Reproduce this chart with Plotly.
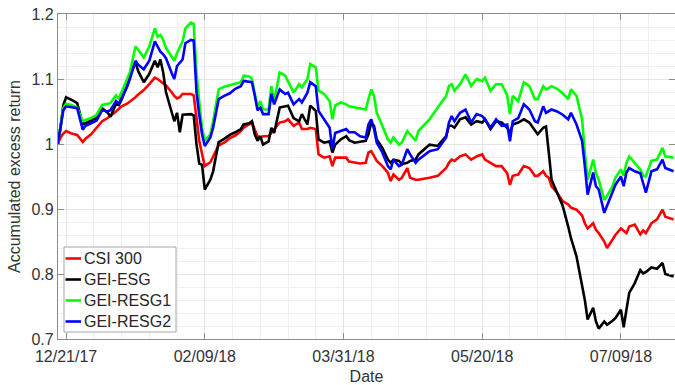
import pandas as pd
import plotly.graph_objects as go

# Day offsets from 2017-12-21
day_offsets = [-3, -2, -1, 0, 2, 4, 6, 7, 9, 11, 13, 15, 16, 18, 19, 20, 22, 23, 25, 26,
               28, 30, 32, 33, 34, 35, 36, 38, 39, 40, 41, 42, 43, 45, 46, 47, 48, 49, 50, 52,
               53, 55, 57, 59, 61, 63, 64, 66, 67, 68, 69, 70, 71, 73, 74, 75, 77, 79, 80, 82,
               84, 85, 87, 88, 90, 91, 93, 95, 96, 97, 99, 101, 102, 104, 106, 108, 109, 110, 111, 112,
               114, 116, 117, 118, 120, 121, 123, 124, 126, 127, 131, 134, 137, 138, 139, 140, 142, 144, 146, 148,
               150, 151, 153, 155, 157, 159, 160, 161, 163, 165, 167, 169, 170, 172, 173, 174, 175, 177, 179, 181,
               182, 184, 186, 187, 188, 190, 191, 192, 194, 195, 197, 198, 200, 201, 202, 203, 205, 207, 208, 209,
               211, 213, 215, 216, 219]

csi300 = [1.000, 1.010, 1.016, 1.020, 1.016, 1.014, 1.003, 1.008, 1.015, 1.025, 1.035, 1.040, 1.043, 1.050, 1.054, 1.058, 1.062, 1.065, 1.072, 1.076,
          1.083, 1.092, 1.102, 1.100, 1.097, 1.094, 1.090, 1.080, 1.074, 1.070, 1.072, 1.077, 1.077, 1.077, 1.075, 1.040, 1.005, 0.985, 0.966, 0.972,
          0.980, 0.998, 1.002, 1.009, 1.013, 1.020, 1.025, 1.030, 1.033, 1.022, 1.012, 1.010, 1.012, 1.012, 1.017, 1.023, 1.033, 1.035, 1.038, 1.028,
          1.033, 1.023, 1.023, 1.025, 1.023, 0.984, 0.979, 0.981, 0.966, 0.979, 0.979, 0.979, 0.973, 0.972, 0.970, 0.971, 0.987, 0.989, 0.982, 0.974,
          0.966, 0.956, 0.943, 0.953, 0.945, 0.948, 0.963, 0.948, 0.945, 0.945, 0.948, 0.951, 0.963, 0.971, 0.976, 0.974, 0.981, 0.984, 0.976, 0.981,
          0.984, 0.976, 0.971, 0.966, 0.966, 0.955, 0.937, 0.951, 0.953, 0.966, 0.963, 0.951, 0.951, 0.958, 0.951, 0.948, 0.935, 0.925, 0.912, 0.907,
          0.902, 0.899, 0.890, 0.878, 0.870, 0.878, 0.868, 0.863, 0.850, 0.840, 0.853, 0.860, 0.870, 0.866, 0.863, 0.873, 0.876, 0.861, 0.867, 0.863,
          0.878, 0.884, 0.899, 0.888, 0.884]

gei_esg = [1.000, 1.025, 1.060, 1.072, 1.068, 1.063, 1.030, 1.032, 1.036, 1.040, 1.055, 1.048, 1.042, 1.062, 1.060, 1.068, 1.090, 1.105, 1.126, 1.112,
           1.095, 1.108, 1.128, 1.118, 1.130, 1.110, 1.080, 1.050, 1.035, 1.048, 1.018, 1.045, 1.045, 1.046, 1.044, 1.000, 0.970, 0.968, 0.930, 0.945,
           0.958, 1.003, 1.008, 1.014, 1.018, 1.023, 1.030, 1.032, 1.035, 1.015, 1.005, 1.012, 0.999, 1.004, 1.025, 1.017, 1.056, 1.058, 1.059, 1.040,
           1.035, 1.046, 1.030, 1.059, 1.051, 1.007, 1.002, 1.004, 0.987, 0.999, 1.007, 1.012, 1.006, 1.002, 1.003, 1.005, 1.015, 1.033, 1.028, 1.007,
           0.994, 0.976, 0.971, 0.976, 0.974, 0.969, 0.971, 0.974, 0.976, 0.984, 0.999, 0.997, 1.012, 1.028, 1.028, 1.025, 1.038, 1.041, 1.030, 1.035,
           1.033, 1.038, 1.023, 1.035, 1.033, 1.025, 1.017, 1.030, 1.033, 1.038, 1.033, 1.022, 1.015, 1.025, 1.027, 0.987, 0.945, 0.925, 0.905, 0.873,
           0.855, 0.827, 0.786, 0.760, 0.730, 0.748, 0.727, 0.716, 0.727, 0.722, 0.728, 0.732, 0.745, 0.718, 0.745, 0.771, 0.786, 0.806, 0.801, 0.803,
           0.810, 0.808, 0.817, 0.800, 0.796]

gei_resg1 = [1.000, 1.030, 1.055, 1.062, 1.060, 1.056, 1.035, 1.037, 1.040, 1.045, 1.060, 1.062, 1.063, 1.075, 1.070, 1.080, 1.100, 1.110, 1.150, 1.145,
             1.133, 1.150, 1.178, 1.165, 1.168, 1.160, 1.148, 1.135, 1.128, 1.140, 1.150, 1.158, 1.178, 1.187, 1.185, 1.110, 1.065, 1.025, 1.005, 1.015,
             1.035, 1.084, 1.088, 1.090, 1.092, 1.095, 1.105, 1.104, 1.100, 1.080, 1.056, 1.066, 1.053, 1.053, 1.089, 1.066, 1.110, 1.105, 1.097, 1.079,
             1.092, 1.087, 1.100, 1.123, 1.118, 1.082, 1.077, 1.066, 1.038, 1.059, 1.064, 1.061, 1.058, 1.056, 1.054, 1.053, 1.069, 1.084, 1.074, 1.048,
             1.028, 1.007, 1.002, 1.010, 0.999, 1.002, 1.020, 1.015, 1.005, 1.020, 1.038, 1.056, 1.074, 1.089, 1.092, 1.082, 1.092, 1.107, 1.089, 1.100,
             1.097, 1.102, 1.082, 1.092, 1.092, 1.075, 1.046, 1.074, 1.066, 1.095, 1.089, 1.069, 1.069, 1.089, 1.084, 1.086, 1.089, 1.085, 1.078, 1.069,
             1.084, 1.074, 1.038, 0.987, 0.945, 0.976, 0.955, 0.945, 0.914, 0.920, 0.935, 0.948, 0.961, 0.951, 0.971, 0.981, 0.971, 0.961, 0.951, 0.950,
             0.974, 0.976, 0.994, 0.981, 0.979]

gei_resg2 = [1.000, 1.028, 1.052, 1.058, 1.057, 1.055, 1.022, 1.028, 1.032, 1.036, 1.052, 1.050, 1.052, 1.066, 1.062, 1.070, 1.088, 1.100, 1.128, 1.122,
             1.115, 1.128, 1.158, 1.150, 1.142, 1.138, 1.132, 1.110, 1.100, 1.120, 1.125, 1.130, 1.155, 1.160, 1.159, 1.080, 1.045, 1.015, 0.997, 1.010,
             1.025, 1.069, 1.074, 1.078, 1.085, 1.089, 1.097, 1.096, 1.095, 1.075, 1.052, 1.056, 1.046, 1.046, 1.077, 1.061, 1.084, 1.077, 1.079, 1.061,
             1.069, 1.064, 1.079, 1.095, 1.089, 1.051, 1.038, 1.025, 0.992, 1.017, 1.020, 1.023, 1.018, 1.018, 1.012, 1.010, 1.030, 1.038, 1.023, 1.002,
             0.987, 0.966, 0.961, 0.976, 0.966, 0.968, 0.992, 0.984, 0.971, 0.976, 0.989, 0.992, 1.010, 1.033, 1.043, 1.035, 1.048, 1.053, 1.033, 1.046,
             1.043, 1.038, 1.025, 1.038, 1.028, 1.030, 1.004, 1.035, 1.040, 1.061, 1.053, 1.035, 1.033, 1.058, 1.048, 1.050, 1.053, 1.050, 1.045, 1.038,
             1.048, 1.030, 1.005, 0.966, 0.922, 0.956, 0.935, 0.930, 0.894, 0.905, 0.925, 0.937, 0.950, 0.935, 0.956, 0.963, 0.958, 0.955, 0.940, 0.925,
             0.958, 0.961, 0.976, 0.963, 0.958]

series_names = ["CSI 300", "GEI-ESG", "GEI-RESG1", "GEI-RESG2"]
series_colors = ["#ff0000", "#000000", "#00ff00", "#0000ff"]
tick_dates = ["2017-12-21", "2018-02-09", "2018-03-31", "2018-05-20", "2018-07-09"]
tick_labels = ["12/21/17", "02/09/18", "03/31/18", "05/20/18", "07/09/18"]
y_ticks = [0.7, 0.8, 0.9, 1.0, 1.1, 1.2]
y_labels = ["0.7", "0.8", "0.9", "1", "1.1", "1.2"]

base = pd.Timestamp("2017-12-21")
dates = [base + pd.Timedelta(days=d) for d in day_offsets]

fig = go.Figure()
for name, vals, col in zip(series_names, [csi300, gei_esg, gei_resg1, gei_resg2], series_colors):
    fig.add_trace(go.Scatter(x=dates, y=vals, mode="lines", name=name,
                             line=dict(color=col, width=2.6), showlegend=False))

# Compact MATLAB-style legend box (paper coordinates of the plot area)
L, T, B = 58, 14, 339
W, H = 617, 325
def px_x(p):
    return (p - L) / W
def px_y(p):
    return (B - p) / H

fig.add_shape(type="rect", xref="paper", yref="paper",
              x0=px_x(64), x1=px_x(176), y0=px_y(332), y1=px_y(247),
              line=dict(color="#a6a6a6", width=1), fillcolor="white", layer="above")
row_y = [258.5, 279.5, 300.5, 321.5]
for name, col, yy in zip(series_names, series_colors, row_y):
    fig.add_shape(type="line", xref="paper", yref="paper",
                  x0=px_x(65.5), x1=px_x(81), y0=px_y(yy), y1=px_y(yy),
                  line=dict(color=col, width=2.6), layer="above")
    fig.add_annotation(xref="paper", yref="paper", x=px_x(82), y=px_y(yy),
                       xanchor="left", yanchor="middle", text=name, showarrow=False,
                       font=dict(size=16, color="#262626"))

font_family = "Liberation Sans, Arial, sans-serif"
axis_col = "#8c8c8c"
fig.update_layout(
    width=675, height=385,
    margin=dict(l=58, r=0, t=14, b=46),
    paper_bgcolor="white", plot_bgcolor="white",
    font=dict(family=font_family, size=16, color="#333333"),
    showlegend=False,
)
fig.update_xaxes(
    type="date",
    range=[pd.Timestamp("2017-12-18") + pd.Timedelta(hours=2), pd.Timestamp("2018-07-28") + pd.Timedelta(hours=12)],
    tickmode="array", tickvals=tick_dates, ticktext=tick_labels,
    ticks="inside", ticklen=6, tickcolor=axis_col, tickwidth=1,
    showline=True, linecolor=axis_col, linewidth=1.3, mirror="ticks",
    showgrid=True, gridcolor="#e4e4e4", gridwidth=1,
    minor=dict(showgrid=True, gridcolor="#f0f0f0", tick0="2017-12-21", dtick=10 * 86400000, ticks=""),
    zeroline=False, ticklabelstandoff=3,
    title=dict(text="Date", standoff=6, font=dict(size=16, color="#333333")),
    tickfont=dict(size=16, color="#333333"),
)
fig.update_yaxes(
    range=[0.7, 1.2],
    tickmode="array", tickvals=y_ticks, ticktext=y_labels,
    ticks="inside", ticklen=6, tickcolor=axis_col, tickwidth=1,
    showline=True, linecolor=axis_col, linewidth=1.3, mirror="ticks",
    showgrid=True, gridcolor="#e4e4e4", gridwidth=1,
    minor=dict(showgrid=True, gridcolor="#f0f0f0", tick0=0.7, dtick=0.02, ticks=""),
    zeroline=False,
    title=dict(text="Accumulated excess return", standoff=6, font=dict(size=16, color="#333333")),
    tickfont=dict(size=16, color="#333333"),
)

fig.write_html("out.html")
